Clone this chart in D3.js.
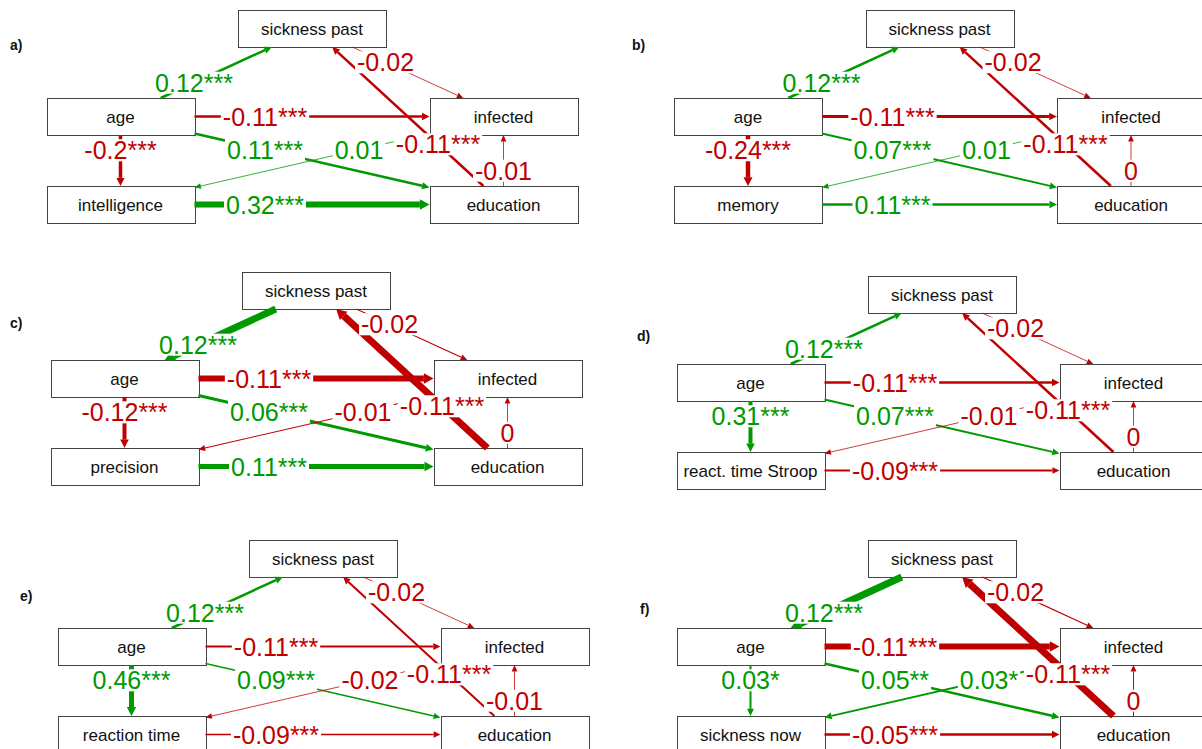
<!DOCTYPE html>
<html>
<head>
<meta charset="utf-8">
<title>Path models a-f</title>
<script src="https://d3js.org/d3.v7.min.js"></script>
<style>
  body { margin: 0; background: #fff; }
  svg { display: block; font-family: "Liberation Sans", Arial, sans-serif; }
</style>
</head>
<body>
<div id="output"></div>
<script>
// boxes, "X" is the measure that changes from panel to panel
var panelIds = ["a", "b", "c", "d", "e", "f"];
var focalNames = ["intelligence", "memory", "precision", "react. time Stroop", "reaction time", "sickness now"];
var nodeNames = ["sickness past", "age", "infected", "X", "education"];
var nodeCol = [0, -1, 1, -1, 1];
var nodeRow = [0, 1, 1, 2, 2];

// paths, same in every panel
var edgeFrom = ["age", "sickness past", "education", "age", "age", "age", "infected", "X", "education"];
var edgeTo = ["sickness past", "infected", "sickness past", "infected", "X", "education", "X", "education", "infected"];

// standardized estimates, stars and drawn edge weight (0-1) per panel
var estA = [0.12, -0.02, -0.11, -0.11, -0.2, 0.11, 0.01, 0.32, -0.01];
var starsA = ["***", "", "***", "***", "***", "***", "", "***", ""];
var weightA = [0.36, 0.11, 0.36, 0.36, 0.5, 0.36, 0.11, 0.86, 0.11];

var estB = [0.12, -0.02, -0.11, -0.11, -0.24, 0.07, 0.01, 0.11, 0];
var starsB = ["***", "", "***", "***", "***", "***", "", "***", ""];
var weightB = [0.36, 0.11, 0.36, 0.43, 0.64, 0.29, 0.11, 0.36, 0.11];

var estC = [0.12, -0.02, -0.11, -0.11, -0.12, 0.06, -0.01, 0.11, 0];
var starsC = ["***", "", "***", "***", "***", "***", "", "***", ""];
var weightC = [1, 0.15, 1, 0.86, 0.57, 0.43, 0.15, 0.71, 0.11];

var estD = [0.12, -0.02, -0.11, -0.11, 0.31, 0.07, -0.01, -0.09, 0];
var starsD = ["***", "", "***", "***", "***", "***", "", "***", ""];
var weightD = [0.36, 0.11, 0.36, 0.36, 0.57, 0.29, 0.11, 0.26, 0.11];

var estE = [0.12, -0.02, -0.11, -0.11, 0.46, 0.09, -0.02, -0.09, -0.01];
var starsE = ["***", "", "***", "***", "***", "***", "", "***", ""];
var weightE = [0.36, 0.11, 0.29, 0.29, 0.71, 0.21, 0.11, 0.21, 0.11];

var estF = [0.12, -0.02, -0.11, -0.11, 0.03, 0.05, 0.03, -0.05, 0];
var starsF = ["***", "", "***", "***", "*", "**", "*", "***", ""];
var weightF = [1, 0.17, 1, 0.86, 0.29, 0.36, 0.29, 0.36, 0.14];

// in panels c and f the first path is drawn with its head at "age"
var arrowAtStart = [[], [], [0], [], [], [0]];

var panelEst = [estA, estB, estC, estD, estE, estF];
var panelStars = [starsA, starsB, starsC, starsD, starsE, starsF];
var panelWeight = [weightA, weightB, weightC, weightD, weightE, weightF];

// where each panel sits (centre of "sickness past") and its letter
var panelX = [312, 939.5, 316, 942, 323, 942];
var panelY = [28.5, 28.5, 290.5, 294.5, 558.5, 558.5];
var letterX = [10, 632, 10, 637, 20, 640];
var letterY = [50, 50, 328, 341, 601, 614];

var w = 1202, h = 749;
var boxW = 148, boxH = 37;
var posCol = "#009900", negCol = "#BF0000";

var svg = d3.select("#output").append("svg")
  .attr("width", w)
  .attr("height", h);

var widthScale = d3.scaleLinear().domain([0, 1]).range([0, 7]);

panelIds.forEach(function(id, p) {
  var x = d3.scaleLinear().domain([-1, 1]).range([panelX[p] - 191.5, panelX[p] + 191.5]);
  var y = d3.scaleLinear().domain([0, 2]).range([panelY[p], panelY[p] + 176]);

  var g = svg.append("g").attr("class", "panel-" + id);

  var nodes = nodeNames.map(function(n, i) {
    return {
      key: n,
      label: n === "X" ? focalNames[p] : n,
      cx: x(nodeCol[i]),
      cy: y(nodeRow[i])
    };
  });
  var byKey = {};
  nodes.forEach(function(n) { byKey[n.key] = n; });

  g.append("text")
    .attr("x", letterX[p])
    .attr("y", letterY[p])
    .attr("font-size", 14)
    .attr("font-weight", "bold")
    .attr("fill", "#111")
    .text(id + ")");

  var nodeG = g.selectAll(".node")
    .data(nodes)
    .enter()
    .append("g")
    .attr("class", "node");

  nodeG.append("rect")
    .attr("x", function(d) { return Math.round(d.cx - boxW / 2) + 0.5; })
    .attr("y", function(d) { return Math.round(d.cy - boxH / 2) + 0.5; })
    .attr("width", boxW)
    .attr("height", boxH)
    .attr("fill", "#fff")
    .attr("stroke", "#444")
    .attr("stroke-width", 1);

  nodeG.append("text")
    .attr("x", function(d) { return d.cx; })
    .attr("y", function(d) { return d.cy + 6.3; })
    .attr("text-anchor", "middle")
    .attr("font-size", 17)
    .attr("fill", "#111")
    .text(function(d) { return d.label; });

  var edges = edgeFrom.map(function(f, i) {
    var a = byKey[f], b = byKey[edgeTo[i]];
    var dx = b.cx - a.cx, dy = b.cy - a.cy;
    var tx = dx === 0 ? Infinity : (boxW / 2) / Math.abs(dx);
    var ty = dy === 0 ? Infinity : (boxH / 2) / Math.abs(dy);
    var t = Math.min(tx, ty);
    var len = Math.sqrt(dx * dx + dy * dy);
    var est = panelEst[p][i];
    return {
      x1: a.cx + t * dx, y1: a.cy + t * dy,
      x2: b.cx - t * dx, y2: b.cy - t * dy,
      ux: dx / len, uy: dy / len,
      est: est,
      label: String(est) + panelStars[p][i],
      sw: widthScale(panelWeight[p][i]),
      back: arrowAtStart[p].indexOf(i) >= 0,
      color: est > 0 ? posCol : negCol
    };
  });

  edges.forEach(function(e) {
    var aLen = 6 + 0.6 * e.sw;
    var aHalf = 2.5 + 0.45 * e.sw;
    var tipX, tipY, dirX, dirY, lx1, ly1, lx2, ly2;
    if (e.back) {
      tipX = e.x1; tipY = e.y1; dirX = -e.ux; dirY = -e.uy;
      lx1 = tipX - dirX * aLen; ly1 = tipY - dirY * aLen; lx2 = e.x2; ly2 = e.y2;
    } else {
      tipX = e.x2; tipY = e.y2; dirX = e.ux; dirY = e.uy;
      lx1 = e.x1; ly1 = e.y1; lx2 = tipX - dirX * aLen; ly2 = tipY - dirY * aLen;
    }
    g.append("line")
      .attr("x1", lx1).attr("y1", ly1)
      .attr("x2", lx2).attr("y2", ly2)
      .attr("stroke", e.color)
      .attr("stroke-width", e.sw);

    var bx = tipX - dirX * aLen, by = tipY - dirY * aLen;
    var pts = [
      [tipX, tipY],
      [bx - dirY * aHalf, by + dirX * aHalf],
      [bx + dirY * aHalf, by - dirX * aHalf]
    ];
    g.append("polygon")
      .attr("points", pts.map(function(q) { return q.join(","); }).join(" "))
      .attr("fill", e.color);
  });

  // labels on top, with white background
  edges.forEach(function(e) {
    var lx = e.x1 + 0.3 * (e.x2 - e.x1);
    var ly = e.y1 + 0.3 * (e.y2 - e.y1);
    var bg = g.append("rect").attr("fill", "#fff");
    var t = g.append("text")
      .attr("x", lx)
      .attr("y", ly + 9)
      .attr("text-anchor", "middle")
      .attr("font-size", 25)
      .attr("fill", e.color)
      .text(e.label);
    var tw = t.node().getComputedTextLength();
    bg.attr("x", lx - tw / 2 - 2)
      .attr("y", ly - 11)
      .attr("width", tw + 4)
      .attr("height", 22);
  });
});
</script>
</body>
</html>
